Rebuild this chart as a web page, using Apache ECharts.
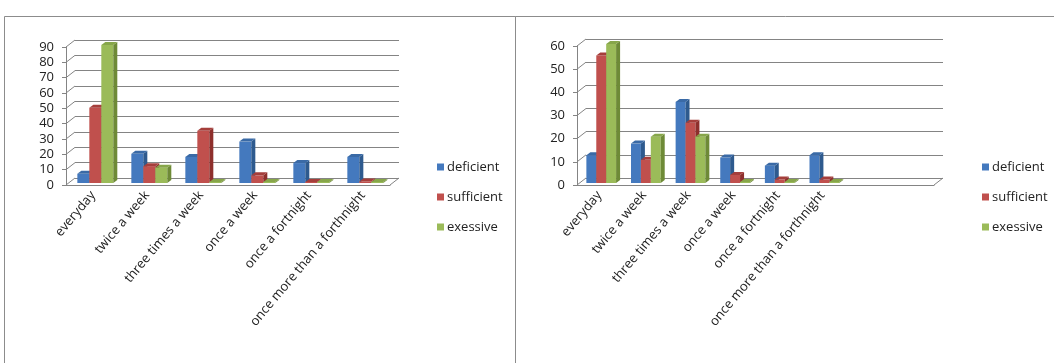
<!DOCTYPE html>
<html>
<head>
<meta charset="utf-8">
<script src="https://cdn.jsdelivr.net/npm/echarts/dist/echarts.min.js"></script>
<style>
  html, body { margin: 0; padding: 0; background: #fff; }
  #chart { width: 1054px; height: 363px; }
</style>
</head>
<body>
<div id="chart"></div>
<script>
// categories (right chart has two empty slots at the end)
const categories = ['everyday', 'twice a week', 'three times a week', 'once a week', 'once a fortnight', 'once more than a forthnight'];
const categoriesRight = categories.concat(['', '']);
const seriesNames = ['deficient', 'sufficient', 'exessive'];

// left chart values
const leftDeficient = [6, 19, 17, 27, 13, 17];
const leftSufficient = [49, 11, 34, 5, 0.5, 1];
const leftExessive = [90, 10, 0, 0, 0, 0];

// right chart values
const rightDeficient = [12, 17, 35, 11, 7.5, 12];
const rightSufficient = [55, 10, 26, 3.5, 1.5, 1.5];
const rightExessive = [60, 20, 20, 0, 0, 0];

const leftTicks = [0, 10, 20, 30, 40, 50, 60, 70, 80, 90];
const rightTicks = [0, 10, 20, 30, 40, 50, 60];

// front, side, top colours
const palette = [
  ['#4479BE', '#2E5A8E', '#3A6AA6'],
  ['#C0504D', '#8E2F2C', '#A53E3B'],
  ['#9BBB59', '#6E8A37', '#87A64A']
];

const DX = 9, DY = 7;      // depth of walls
const BDX = 4, BDY = 3;    // depth of bars
const GRID_COLOR = '#848484';
const FONT = '"Open Sans", "Liberation Sans", sans-serif';

function barRenderer(i) {
  const c = palette[i];
  return function (params, api) {
    const cat = api.value(0), v = api.value(1);
    const top = api.coord([cat, v]);
    const bot = api.coord([cat, 0]);
    const band = api.size([1, 0])[0];
    const w = band * 0.222;
    const x0 = top[0] - band / 2 + band * 0.21 + i * w;
    const yB = bot[1] - 2, yT = Math.min(top[1] - 2, yB - 1);
    return {
      type: 'group',
      children: [
        { type: 'rect', shape: { x: x0, y: yT, width: w, height: yB - yT }, style: { fill: c[0] } },
        { type: 'polygon', shape: { points: [[x0 + w, yT], [x0 + w + BDX, yT - BDY], [x0 + w + BDX, yB - BDY], [x0 + w, yB]] }, style: { fill: c[1] } },
        { type: 'polygon', shape: { points: [[x0, yT], [x0 + BDX, yT - BDY], [x0 + w + BDX, yT - BDY], [x0 + w, yT]] }, style: { fill: c[2] } }
      ]
    };
  };
}

function frameRenderer(catCount) {
  return function (params, api) {
    const v = api.value(1);
    const p = api.coord([0, v]);
    const band = api.size([1, 0])[0];
    const x = p[0] - band / 2;
    const st = { stroke: GRID_COLOR, lineWidth: 1 };
    const children = [
      { type: 'line', shape: { x1: x, y1: p[1], x2: x + DX, y2: p[1] - DY }, style: st }
    ];
    if (v === 0) {
      const xe = x + band * catCount;
      children.push({ type: 'line', shape: { x1: xe, y1: p[1], x2: xe + DX, y2: p[1] - DY }, style: st });
    }
    return { type: 'group', children: children };
  };
}

function pairs(vals) {
  return vals.map((v, i) => [i, v]);
}

const chart = echarts.init(document.getElementById('chart'));

const grids = [
  { left: 66, top: 47, width: 324, height: 138 },           // left front
  { left: 66 + DX, top: 47 - DY, width: 324, height: 138 }, // left back wall
  { left: 577, top: 46, width: 357, height: 139 },          // right front
  { left: 577 + DX, top: 46 - DY, width: 357, height: 139 } // right back wall
];

function frontX(idx, data) {
  return {
    type: 'category', gridIndex: idx, data: data,
    axisLine: { lineStyle: { color: GRID_COLOR } },
    axisTick: { length: 5, lineStyle: { color: GRID_COLOR } },
    axisLabel: { rotate: 50, interval: 0, margin: 8, fontSize: 13, color: '#222', fontFamily: FONT },
    splitLine: { show: false }
  };
}
function backX(idx, data) {
  return { type: 'category', gridIndex: idx, data: data, show: false };
}
function frontY(idx, max) {
  return {
    type: 'value', gridIndex: idx, min: 0, max: max, interval: 10,
    axisLine: { show: true, lineStyle: { color: GRID_COLOR } },
    axisTick: { show: true, length: 4, lineStyle: { color: GRID_COLOR } },
    axisLabel: { margin: 12, fontSize: 13, color: '#222', fontFamily: FONT },
    splitLine: { show: false }
  };
}
function backY(idx, max) {
  return {
    type: 'value', gridIndex: idx, min: 0, max: max, interval: 10,
    axisLine: { show: false }, axisTick: { show: false }, axisLabel: { show: false },
    splitLine: { show: true, lineStyle: { color: GRID_COLOR, width: 1 } }
  };
}

const series = [];
// side wall and floor edges
series.push({ type: 'custom', xAxisIndex: 0, yAxisIndex: 0, renderItem: frameRenderer(categories.length), data: leftTicks.map(t => [0, t]), encode: { x: 0, y: 1 }, silent: true, z: 1 });
series.push({ type: 'custom', xAxisIndex: 2, yAxisIndex: 2, renderItem: frameRenderer(categoriesRight.length), data: rightTicks.map(t => [0, t]), encode: { x: 0, y: 1 }, silent: true, z: 1 });

const leftVals = [leftDeficient, leftSufficient, leftExessive];
const rightVals = [rightDeficient, rightSufficient, rightExessive];
seriesNames.forEach((name, i) => {
  series.push({
    name: name, type: 'custom', xAxisIndex: 0, yAxisIndex: 0,
    renderItem: barRenderer(i), data: pairs(leftVals[i]), encode: { x: 0, y: 1 },
    itemStyle: { color: palette[i][0] }, silent: true, z: 3
  });
  series.push({
    name: name, type: 'custom', xAxisIndex: 2, yAxisIndex: 2,
    renderItem: barRenderer(i), data: pairs(rightVals[i]), encode: { x: 0, y: 1 },
    itemStyle: { color: palette[i][0] }, silent: true, z: 3
  });
});

function legend(left) {
  return {
    data: seriesNames, orient: 'vertical', left: left, top: 155,
    icon: 'rect', itemWidth: 7, itemHeight: 7, itemGap: 16,
    selectedMode: false,
    textStyle: { fontSize: 13, lineHeight: 14, color: '#222', fontFamily: FONT, padding: [0, 0, 0, -2] }
  };
}

chart.setOption({
  animation: false,
  backgroundColor: '#fff',
  grid: grids,
  xAxis: [frontX(0, categories), backX(1, categories), frontX(2, categoriesRight), backX(3, categoriesRight)],
  yAxis: [frontY(0, 90), backY(1, 90), frontY(2, 60), backY(3, 60)],
  legend: [legend(432), legend(977)],
  graphic: [
    { type: 'rect', shape: { x: 4.5, y: 16.5, width: 511, height: 400 }, style: { fill: 'none', stroke: '#8c8c8c', lineWidth: 1 }, silent: true },
    { type: 'rect', shape: { x: 515.5, y: 16.5, width: 600, height: 400 }, style: { fill: 'none', stroke: '#8c8c8c', lineWidth: 1 }, silent: true }
  ],
  series: series
});
</script>
</body>
</html>
